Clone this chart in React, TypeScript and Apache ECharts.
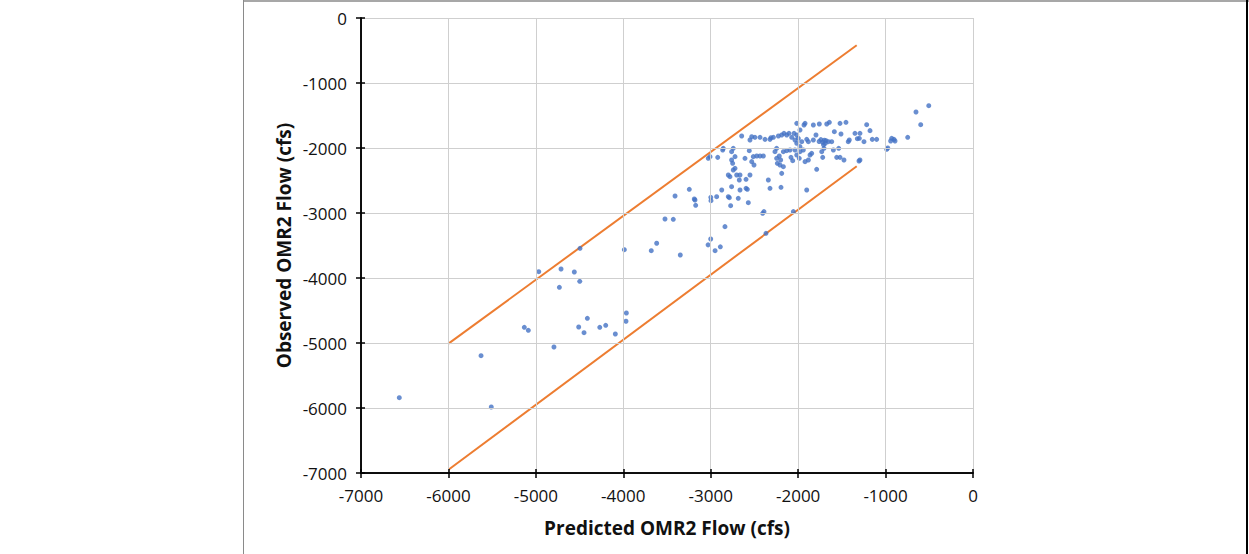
import React, { useEffect, useRef } from "react";
import * as echarts from "echarts";

const xTicks = [-7000, -6000, -5000, -4000, -3000, -2000, -1000, 0];
const yTicks = [0, -1000, -2000, -3000, -4000, -5000, -6000, -7000];

const xTitle = "Predicted OMR2 Flow (cfs)";
const yTitle = "Observed OMR2 Flow (cfs)";

// Observed vs predicted points [predicted, observed]
const points: number[][] = [
  [-4495, -3543], [-3988, -3564], [-4967, -3903], [-4712, -3862], [-4560, -3908], [-4498, -4051],
  [-4731, -4143], [-3965, -4538], [-3969, -4666], [-4411, -4620], [-4510, -4754], [-4449, -4841],
  [-4269, -4759], [-4201, -4728], [-4091, -4862], [-5132, -4759], [-5086, -4805], [-4793, -5062],
  [-5627, -5195], [-6562, -5841], [-5510, -5985],
  [-3523, -3092], [-3428, -3097], [-3618, -3466], [-3680, -3580], [-3348, -3646], [-3180, -2800], [-3172, -2882],
  [-3000, -3400], [-3030, -3490], [-2950, -3580], [-2890, -3520],
  [-506, -1349], [-652, -1446], [-598, -1641], [-747, -1836], [-987, -2020], [-975, -2000],
  [-930, -1851], [-904, -1867], [-892, -1892], [-942, -1892],
  [-1102, -1867], [-1152, -1867], [-1178, -1733], [-1216, -1641], [-1247, -1903], [-1293, -1774],
  [-1300, -1851], [-1323, -1857], [-1350, -1774], [-1293, -2185], [-1304, -2200],
  [-1415, -1877], [-1427, -1903], [-1453, -1605], [-1510, -1785], [-1521, -1621], [-1476, -2185],
  [-1521, -2144], [-1536, -2005], [-1559, -2144], [-1586, -1749], [-1616, -1903], [-1643, -1605],
  [-1673, -1631], [-1597, -2031], [-1654, -1903], [-1681, -1887],
  [-1700, -1880], [-1720, -1910], [-1740, -1870], [-1760, -1900], [-1710, -1950], [-1690, -1930],
  [-1730, -2057], [-1704, -2005], [-1719, -2144], [-1758, -1631], [-1826, -1646], [-1796, -1800],
  [-1788, -2328], [-1826, -1877], [-1845, -2082], [-1883, -1903], [-1902, -1867], [-1921, -1621],
  [-1933, -1646], [-1902, -2646], [-1921, -2210], [-1883, -2185], [-1864, -2108],
  [-2016, -1621], [-1979, -1723], [-2016, -1800], [-1998, -1851], [-2036, -1877], [-1959, -1903],
  [-2016, -1928], [-1979, -1979], [-2036, -2031], [-1979, -2057], [-1941, -2031], [-2016, -2108],
  [-1987, -2159], [-2047, -1774], [-2074, -1836], [-2105, -1774], [-2131, -1800], [-2162, -1774],
  [-2188, -1800], [-2226, -1815], [-2283, -1836], [-2322, -1867], [-2379, -1867], [-2436, -1836],
  [-2494, -1836], [-2531, -1826], [-2551, -1877], [-2646, -1815],
  [-2093, -2031], [-2131, -2041], [-2169, -2057], [-2082, -2144], [-2062, -2195], [-2246, -2005],
  [-2265, -2057], [-2216, -2123], [-2246, -2159], [-2200, -2185], [-2238, -2236], [-2208, -2262],
  [-2169, -2287], [-2188, -2390], [-2341, -2492], [-2322, -2620], [-2196, -2605], [-2391, -2979],
  [-2406, -3005], [-2055, -2979], [-2368, -3313],
  [-2559, -2041], [-2513, -2133], [-2474, -2123], [-2436, -2123], [-2398, -2123], [-2531, -2210],
  [-2505, -2262], [-2608, -2159], [-2742, -2005], [-2761, -2057], [-2722, -2133], [-2761, -2185],
  [-2749, -2236], [-2722, -2313], [-2742, -2338], [-2780, -2441], [-2799, -2415], [-2703, -2415],
  [-2665, -2415], [-2673, -2492], [-2596, -2482], [-2551, -2415], [-2761, -2595], [-2665, -2646],
  [-2596, -2620], [-2581, -2636], [-2874, -2646], [-2932, -2749], [-2999, -2759], [-2997, -2810],
  [-2799, -2749], [-2685, -2774], [-2772, -2887], [-2570, -2841], [-3188, -2785], [-3245, -2636],
  [-3408, -2738], [-2837, -3210], [-2787, -2764],
  [-3028, -2159], [-3008, -2133], [-2920, -2144], [-2856, -2005], [-2863, -2031], [-2311, -1841],
];

const upperBound: number[][] = [[-6000, -5010], [-1330, -420]];
const lowerBound: number[][] = [[-6000, -6950], [-1330, -2280]];

const FONT = "'Open Sans', sans-serif";
const fmt = (v: number) => String(v);

export default function App() {
  const ref = useRef<HTMLDivElement>(null);
  useEffect(() => {
    if (!ref.current) return;
    const chart = echarts.init(ref.current, undefined, { renderer: "svg" });
    const baseAxis = {
      type: "value" as const,
      min: xTicks[0],
      max: xTicks[xTicks.length - 1],
      interval: 1000,
    };
    const baseYAxis = {
      type: "value" as const,
      min: yTicks[yTicks.length - 1],
      max: yTicks[0],
      interval: 1000,
    };
    chart.setOption({
      animation: false,
      backgroundColor: "#ffffff",
      grid: { left: 361, right: 276, top: 18, bottom: 81, containLabel: false },
      xAxis: [
        {
          ...baseAxis,
          position: "bottom",
          name: xTitle,
          nameLocation: "middle",
          nameGap: 45,
          nameTextStyle: { fontFamily: FONT, fontSize: 19, fontWeight: "bold", color: "#111" },
          axisLine: { show: true, onZero: false, lineStyle: { color: "#000", width: 1.5 } },
          axisTick: { show: true, inside: false, length: 5, lineStyle: { color: "#000", width: 1.5 } },
          axisLabel: { fontFamily: FONT, fontSize: 17, color: "#111", margin: 14, formatter: fmt },
          splitLine: { show: true, lineStyle: { color: "#cfcfcf", width: 1 } },
          z: 5,
        },
        {
          ...baseAxis,
          position: "bottom",
          axisLine: { show: true, onZero: false, lineStyle: { color: "#000", width: 1.5 } },
          axisTick: { show: true, inside: true, length: 4, lineStyle: { color: "#000", width: 1.5 } },
          axisLabel: { show: false },
          splitLine: { show: false },
          z: 5,
        },
      ],
      yAxis: [
        {
          ...baseYAxis,
          position: "left",
          name: yTitle,
          nameLocation: "middle",
          nameGap: 68,
          nameRotate: 90,
          nameTextStyle: { fontFamily: FONT, fontSize: 19, fontWeight: "bold", color: "#111" },
          axisLine: { show: true, onZero: false, lineStyle: { color: "#000", width: 1.5 } },
          axisTick: { show: true, inside: false, length: 5, lineStyle: { color: "#000", width: 1.5 } },
          axisLabel: { fontFamily: FONT, fontSize: 17, color: "#111", margin: 14, formatter: fmt },
          splitLine: { show: true, lineStyle: { color: "#cfcfcf", width: 1 } },
          z: 5,
        },
        {
          ...baseYAxis,
          position: "left",
          axisLine: { show: true, onZero: false, lineStyle: { color: "#000", width: 1.5 } },
          axisTick: { show: true, inside: true, length: 4, lineStyle: { color: "#000", width: 1.5 } },
          axisLabel: { show: false },
          splitLine: { show: false },
          z: 5,
        },
      ],
      series: [
        {
          type: "line",
          data: upperBound,
          symbol: "none",
          lineStyle: { color: "#ed7d31", width: 2 },
          z: 2,
        },
        {
          type: "line",
          data: lowerBound,
          symbol: "none",
          lineStyle: { color: "#ed7d31", width: 2 },
          z: 2,
        },
        {
          type: "scatter",
          data: points,
          symbolSize: 5,
          itemStyle: { color: "#4472c4" },
          z: 3,
        },
      ],
      graphic: [
        { type: "line", shape: { x1: 243.5, y1: 0, x2: 243.5, y2: 554 }, style: { stroke: "#8a8a8a", lineWidth: 1 } },
        { type: "line", shape: { x1: 243, y1: 1, x2: 1249, y2: 1 }, style: { stroke: "#8a8a8a", lineWidth: 1.5 } },
        { type: "line", shape: { x1: 1247, y1: 0, x2: 1247, y2: 554 }, style: { stroke: "#000", lineWidth: 2 } },
      ],
    });
    return () => chart.dispose();
  }, []);
  return (
    <div
      ref={ref}
      style={{ position: "fixed", left: 0, top: 0, width: 1249, height: 554, background: "#fff" }}
    />
  );
}
